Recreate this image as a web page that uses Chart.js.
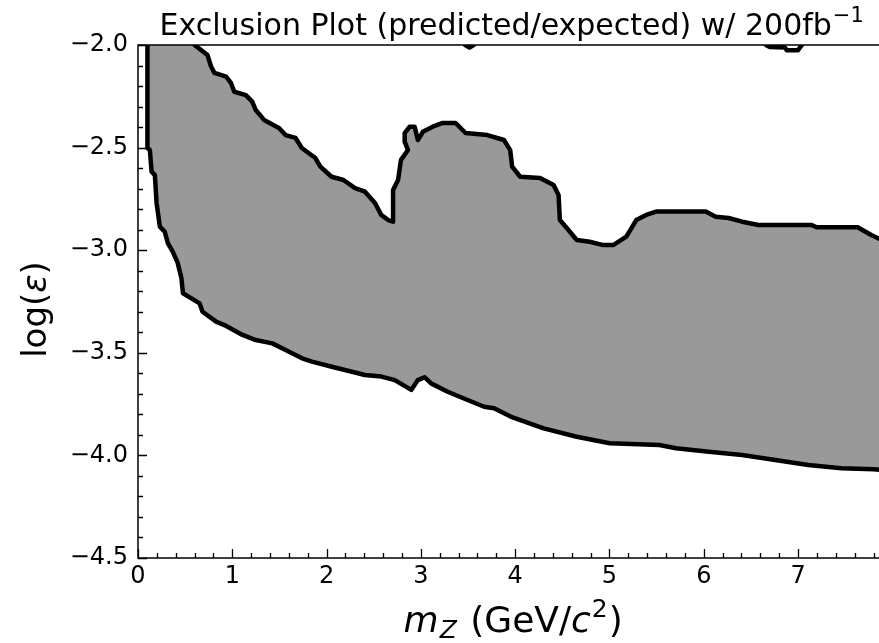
<!DOCTYPE html>
<html>
<head>
<meta charset="utf-8">
<script src="https://cdn.jsdelivr.net/npm/chart.js@4.4.1/dist/chart.umd.min.js"></script>
<style>
  html, body { margin: 0; padding: 0; background: #ffffff; overflow: hidden; }
  #wrap { position: relative; width: 904px; height: 643px; }
</style>
</head>
<body>
<div id="wrap"><canvas id="chart" width="904" height="643"></canvas></div>
<script>
// Lower edge of the excluded region: left wall, then the lower contour (mass in GeV/c^2, log10 epsilon)
const lowerMass = [0.100, 0.100, 0.126, 0.144, 0.179, 0.197, 0.232, 0.284, 0.316, 0.368, 0.421, 0.460, 0.477,
  0.653, 0.684, 0.828, 0.916, 1.108, 1.249, 1.424, 1.565, 1.740, 1.845, 2.056, 2.407, 2.582, 2.723, 2.898,
  2.968, 3.039, 3.108, 3.284, 3.495, 3.671, 3.776, 3.951, 4.302, 4.653, 5.003, 5.529, 5.705, 6.056, 6.407,
  6.758, 7.108, 7.460, 7.800, 8.000];
const lowerLogEps = [-2.000, -2.502, -2.512, -2.617, -2.634, -2.770, -2.885, -2.910, -2.965, -3.007, -3.062, -3.135, -3.210,
  -3.259, -3.300, -3.348, -3.365, -3.413, -3.438, -3.454, -3.486, -3.527, -3.543, -3.568, -3.608, -3.616, -3.633, -3.681,
  -3.633, -3.619, -3.649, -3.690, -3.730, -3.763, -3.770, -3.811, -3.868, -3.909, -3.941, -3.949, -3.965, -3.982, -3.998,
  -4.022, -4.047, -4.063, -4.068, -4.075];

// Upper contour of the excluded region
const upperMass = [0.600, 0.737, 0.776, 0.811, 0.934, 0.986, 1.021, 1.144, 1.211, 1.249, 1.337, 1.495, 1.565, 1.671,
  1.737, 1.881, 1.934, 2.053, 2.179, 2.302, 2.407, 2.513, 2.579, 2.653, 2.705, 2.705, 2.758, 2.789, 2.863, 2.828,
  2.828, 2.881, 2.934, 2.968, 3.021, 3.126, 3.232, 3.368, 3.474, 3.705, 3.881, 3.947, 3.968, 4.053, 4.263, 4.407,
  4.460, 4.474, 4.547, 4.653, 4.789, 4.934, 5.039, 5.179, 5.284, 5.389, 5.495, 6.021, 6.126, 6.263, 6.407, 6.579,
  7.144, 7.197, 7.632, 7.776, 8.000];
const upperLogEps = [-2.000, -2.049, -2.106, -2.136, -2.154, -2.185, -2.228, -2.244, -2.276, -2.317, -2.365, -2.404, -2.439, -2.453,
  -2.502, -2.551, -2.593, -2.642, -2.658, -2.697, -2.715, -2.770, -2.828, -2.853, -2.861, -2.707, -2.658, -2.560, -2.512, -2.471,
  -2.429, -2.398, -2.398, -2.463, -2.423, -2.398, -2.380, -2.380, -2.429, -2.439, -2.463, -2.512, -2.593, -2.642, -2.648, -2.682,
  -2.731, -2.853, -2.892, -2.950, -2.959, -2.975, -2.975, -2.934, -2.853, -2.828, -2.812, -2.812, -2.837, -2.843, -2.861, -2.877,
  -2.877, -2.888, -2.888, -2.926, -2.975];

// Two small contour islands just below the top of the frame
const islandAMass = [3.470, 3.515, 3.560];
const islandALogEps = [-2.000, -2.012, -2.000];
const islandBMass = [6.660, 6.700, 6.860, 6.880, 7.000, 7.040];
const islandBLogEps = [-2.000, -2.010, -2.012, -2.025, -2.025, -2.000];

// Axis ticks
const xTickValues = [0, 1, 2, 3, 4, 5, 6, 7, 8];
const xTickLabels = ['0', '1', '2', '3', '4', '5', '6', '7', '8'];
const yTickValues = [-4.5, -4.0, -3.5, -3.0, -2.5, -2.0];
const yTickLabels = ['\u22124.5', '\u22124.0', '\u22123.5', '\u22123.0', '\u22122.5', '\u22122.0'];

const pts = (xs, ys) => xs.map((v, i) => ({ x: v, y: ys[i] }));
const lowerPts = pts(lowerMass, lowerLogEps);
const upperPts = pts(upperMass, upperLogEps);
// closed outline: down the wall and along the lower contour, back along the upper contour
const regionPts = lowerPts.concat(upperPts.slice().reverse());

const FONT = "'DejaVu Sans', 'Liberation Sans', sans-serif";

const lineStyle = {
  borderColor: '#000000',
  borderWidth: 4.5,
  borderJoinStyle: 'round',
  borderCapStyle: 'round',
  pointRadius: 0,
  fill: false,
  tension: 0,
  clip: 0,
  order: 1
};

const frameAndText = {
  id: 'frameAndText',
  afterDatasetsDraw(chart) {
    const { ctx, chartArea: a, scales: { x, y } } = chart;
    ctx.save();
    ctx.strokeStyle = '#000000';
    ctx.lineWidth = 1.3;
    ctx.beginPath();
    // inward ticks on the bottom axis: majors every 1, minors every 0.2
    for (let k = 0; k <= 40; k++) {
      const v = k * 0.2;
      const px = Math.round(x.getPixelForValue(v)) + 0.5;
      const len = (k % 5 === 0) ? 9 : 5;
      ctx.moveTo(px, a.bottom);
      ctx.lineTo(px, a.bottom - len);
    }
    // inward ticks on the left axis: majors every 0.5, minors every 0.1
    for (let k = 0; k <= 25; k++) {
      const v = -4.5 + k * 0.1;
      const py = Math.round(y.getPixelForValue(v)) + 0.5;
      const len = (k % 5 === 0) ? 9 : 5;
      ctx.moveTo(a.left, py);
      ctx.lineTo(a.left + len, py);
    }
    ctx.stroke();
    ctx.lineWidth = 1.5;
    ctx.strokeRect(a.left, a.top, a.right - a.left, a.bottom - a.top);
    ctx.restore();
  },
  afterDraw(chart) {
    const { ctx, chartArea: a } = chart;
    const cx = (a.left + a.right) / 2;
    ctx.save();
    ctx.fillStyle = '#000000';
    ctx.textBaseline = 'alphabetic';

    // Title with superscript
    const tMain = 'Exclusion Plot (predicted/expected) w/ 200fb';
    const tSup = '\u22121';
    ctx.font = `30px ${FONT}`;
    const wMain = ctx.measureText(tMain).width;
    ctx.font = `21px ${FONT}`;
    const wSup = ctx.measureText(tSup).width;
    let tx = cx - (wMain + wSup) / 2 - 4;
    ctx.font = `30px ${FONT}`;
    ctx.fillText(tMain, tx, 35);
    ctx.font = `21px ${FONT}`;
    ctx.fillText(tSup, tx + wMain + 1, 22);

    // x-axis label: m_Z (GeV/c^2)
    const parts = [
      { t: 'm', f: `italic 36px ${FONT}`, dy: 0, gap: 1 },
      { t: 'Z', f: `italic 25px ${FONT}`, dy: 6, gap: 2 },
      { t: ' (GeV/', f: `36px ${FONT}`, dy: 0, gap: 0 },
      { t: 'c', f: `italic 36px ${FONT}`, dy: 0, gap: 1 },
      { t: '2', f: `25px ${FONT}`, dy: -15, gap: 1 },
      { t: ')', f: `36px ${FONT}`, dy: 0, gap: 0 }
    ];
    let total = 0;
    parts.forEach(p => { ctx.font = p.f; p.w = ctx.measureText(p.t).width + p.gap; total += p.w; });
    let px = cx - total / 2 - 2;
    const base = 632;
    parts.forEach(p => { ctx.font = p.f; ctx.fillText(p.t, px, base + p.dy); px += p.w; });

    // y-axis label: log(epsilon)
    const yParts = [
      { t: 'log(', f: `34px ${FONT}` },
      { t: '\u03b5', f: `italic 34px ${FONT}` },
      { t: ')', f: `34px ${FONT}` }
    ];
    let yTotal = 0;
    yParts.forEach(p => { ctx.font = p.f; p.w = ctx.measureText(p.t).width; yTotal += p.w; });
    ctx.translate(46, (a.top + a.bottom) / 2 + 8);
    ctx.rotate(-Math.PI / 2);
    let ox = -yTotal / 2;
    yParts.forEach(p => { ctx.font = p.f; ctx.fillText(p.t, ox, 0); ox += p.w; });
    ctx.restore();
  }
};

new Chart(document.getElementById('chart'), {
  type: 'line',
  data: {
    datasets: [
      {
        label: 'excluded',
        data: regionPts,
        borderWidth: 0,
        borderColor: 'rgba(0,0,0,0)',
        backgroundColor: '#999999',
        fill: 'shape',
        pointRadius: 0,
        tension: 0,
        clip: 0,
        order: 2
      },
      Object.assign({ label: 'lower contour', data: lowerPts }, lineStyle),
      Object.assign({ label: 'upper contour', data: upperPts }, lineStyle),
      Object.assign({ label: 'island A', data: pts(islandAMass, islandALogEps) }, lineStyle),
      Object.assign({ label: 'island B', data: pts(islandBMass, islandBLogEps) }, lineStyle)
    ]
  },
  options: {
    responsive: false,
    animation: false,
    devicePixelRatio: 1,
    layout: { padding: { top: 45, right: 6, left: 0, bottom: 0 } },
    plugins: { legend: { display: false }, tooltip: { enabled: false }, title: { display: false } },
    scales: {
      x: {
        type: 'linear',
        min: 0,
        max: 8,
        afterBuildTicks: s => { s.ticks = xTickValues.map(v => ({ value: v })); },
        afterFit: s => { s.height = 85; },
        ticks: {
          callback: (v) => xTickLabels[xTickValues.indexOf(v)] ?? '',
          font: { family: FONT, size: 24 },
          color: '#000000',
          padding: 4,
          maxRotation: 0,
          autoSkip: false
        },
        grid: { display: false, drawTicks: false },
        border: { display: false }
      },
      y: {
        type: 'linear',
        min: -4.5,
        max: -2.0,
        afterBuildTicks: s => { s.ticks = yTickValues.map(v => ({ value: v })); },
        afterFit: s => { s.width = 138; },
        ticks: {
          callback: (v) => yTickLabels[yTickValues.indexOf(v)] ?? '',
          font: { family: FONT, size: 24 },
          color: '#000000',
          padding: 10,
          autoSkip: false
        },
        grid: { display: false, drawTicks: false },
        border: { display: false }
      }
    }
  },
  plugins: [frameAndText]
});
</script>
</body>
</html>
